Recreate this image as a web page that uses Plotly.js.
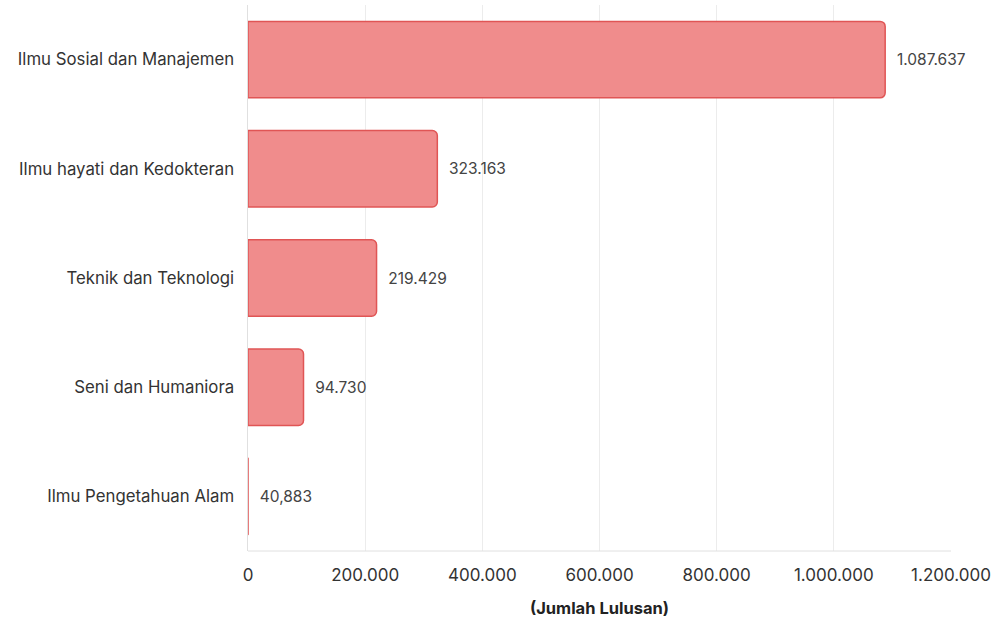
<!DOCTYPE html>
<html>
<head>
<meta charset="utf-8">
<script src="https://cdn.plot.ly/plotly-3.0.1.min.js"></script>
<style>html,body{margin:0;padding:0;background:#fff;}#chart{width:999px;height:626px;}</style>
</head>
<body>
<div id="chart"></div>
<script>
const categories = [
  "Ilmu Sosial dan Manajemen",
  "Ilmu hayati dan Kedokteran",
  "Teknik dan Teknologi",
  "Seni dan Humaniora",
  "Ilmu Pengetahuan Alam"
];
const values = [1087637, 323163, 219429, 94730, 40.883];
const valueLabels = ["1.087.637", "323.163", "219.429", "94.730", "40,883"];
const tickValues = [0, 200000, 400000, 600000, 800000, 1000000, 1200000];
const tickLabels = ["0", "200.000", "400.000", "600.000", "800.000", "1.000.000", "1.200.000"];

const fam = "Inter, 'Open Sans', sans-serif";

const trace = {
  type: "bar",
  orientation: "h",
  y: categories,
  x: values,
  text: valueLabels.map(t => "\u00a0\u00a0" + t),
  textposition: "outside",
  cliponaxis: false,
  textfont: {family: fam, size: 15.5, color: "#444"},
  marker: {color: "#f08c8c", line: {color: "#e05555", width: 1.5}, cornerradius: 5},
  width: 0.7,
  hoverinfo: "none"
};

const layout = {
  width: 999, height: 626,
  margin: {l: 248, r: 48, t: 5, b: 75},
  paper_bgcolor: "#fff", plot_bgcolor: "#fff",
  separators: ",.",
  font: {family: fam, color: "#333"},
  showlegend: false,
  xaxis: {
    range: [0, 1200000],
    tickvals: tickValues,
    ticktext: tickLabels,
    showgrid: true, gridcolor: "#ececec", gridwidth: 1,
    zeroline: false,
    showline: false,
    tickfont: {size: 17, color: "#333"},
    ticks: "", ticklen: 0,
    ticklabelstandoff: 12,
    title: {text: "<b>(Jumlah Lulusan)</b>", font: {size: 16.5, color: "#222"}, standoff: 18}
  },
  yaxis: {
    autorange: "reversed",
    showgrid: false,
    zeroline: false,
    showline: true, linecolor: "#e0e0e0", linewidth: 1,
    ticks: "", ticklen: 0,
    tickfont: {size: 16.8, color: "#333"},
    ticksuffix: "  "
  },
  shapes: [{
    type: "line", xref: "paper", yref: "paper", x0: 0, x1: 1, y0: 0, y1: 0,
    line: {color: "#e0e0e0", width: 1}
  }]
};

Plotly.newPlot("chart", [trace], layout, {displayModeBar: false, staticPlot: true});
</script>
</body>
</html>
